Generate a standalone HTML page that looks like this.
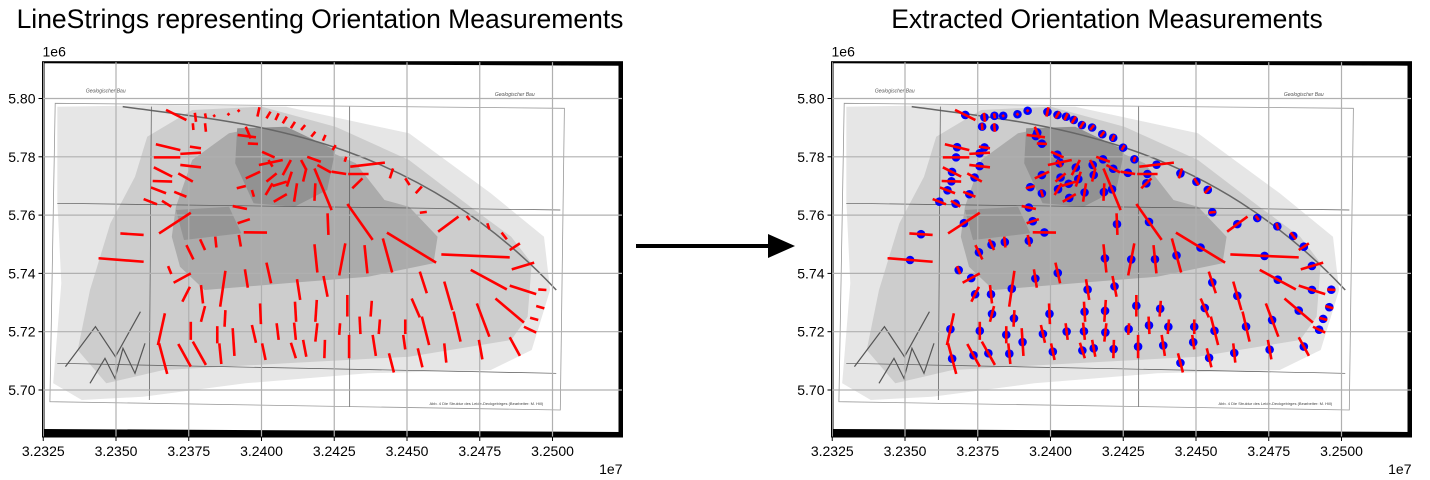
<!DOCTYPE html>
<html><head><meta charset="utf-8"><style>
body{margin:0;background:#fff;}
svg{display:block;font-family:"Liberation Sans",sans-serif;}
</style></head><body>
<svg id="fig" width="1430" height="480" viewBox="0 0 1430 480" xmlns="http://www.w3.org/2000/svg">
<text x="320" y="28" text-anchor="middle" font-size="26.5" fill="#000">LineStrings representing Orientation Measurements</text>
<text x="1107" y="28" text-anchor="middle" font-size="26.5" fill="#000">Extracted Orientation Measurements</text>
<g>
<line x1="636" y1="246" x2="772" y2="246" stroke="#000" stroke-width="4"/>
<polygon points="768,234 795,246 768,258" fill="#000"/>
</g>
<g id="left"></g>
<g id="right"></g>
</svg>
<script>
// tick values (km units: easting in 1e4 m -> label in 1e7; northing km -> label 1e6)
const xTicks = [32325, 32350, 32375, 32400, 32425, 32450, 32475, 32500];
const xTickLabels = ["3.2325","3.2350","3.2375","3.2400","3.2425","3.2450","3.2475","3.2500"];
const yTicks = [5700, 5720, 5740, 5760, 5780, 5800];
const yTickLabels = ["5.70","5.72","5.74","5.76","5.78","5.80"];
// segment endpoints (easting km, northing km)
const segX1 = [32367.2,32377.1,32380.6,32384.1,32388.3,32391.8,32399.3,32403.1,32405.9,32408.7,32411.5,32415.0,32418.5,32422.0,32425.5,32429.1,32376.4,32380.6,32394.6,32391.8,32395.3,32363.7,32363.0,32372.1,32375.4,32363.0,32372.1,32362.6,32371.4,32362.0,32370.0,32359.5,32365.8,32364.8,32351.5,32344.0,32367.9,32369.8,32374.2,32378.9,32384.1,32392.2,32393.9,32391.8,32390.1,32391.5,32396.7,32400.2,32399.1,32402.4,32394.6,32401.7,32401.4,32404.2,32403.8,32407.3,32411.2,32408.7,32414.3,32413.6,32415.7,32418.2,32419.2,32418.2,32424.1,32429.8,32430.5,32431.2,32429.5,32422.7,32445.2,32449.4,32453.0,32454.4,32460.7,32470.5,32477.6,32482.5,32485.3,32486.0,32461.8,32443.1,32441.7,32435.4,32428.8,32418.2,32471.9,32485.3,32495.1,32480.4,32494.4,32492.3,32490.2,32401.7,32394.3,32387.6,32379.2,32375.4,32412.2,32421.3,32454.4,32462.8,32474.0,32451.6,32437.9,32429.5,32419.0,32411.5,32399.5,32387.6,32380.6,32366.8,32375.7,32384.8,32390.1,32396.7,32405.2,32411.2,32419.2,32427.0,32433.7,32440.7,32449.4,32455.1,32466.0,32485.3,32474.7,32462.8,32453.7,32443.8,32438.2,32448.7,32430.1,32421.8,32414.3,32410.1,32400.2,32385.5,32376.4,32371.4,32364.8];
const segY1 = [5796.1,5795.1,5794.9,5794.3,5794.3,5795.5,5797.0,5795.5,5794.9,5793.8,5792.0,5790.9,5788.6,5787.5,5784.0,5780.0,5791.5,5791.5,5790.3,5787.5,5784.6,5784.3,5779.8,5781.0,5783.5,5776.4,5777.2,5771.7,5774.3,5769.5,5768.0,5765.5,5764.9,5753.7,5753.7,5745.2,5742.5,5736.8,5749.7,5751.7,5752.6,5753.2,5754.1,5757.2,5763.1,5769.2,5768.6,5781.7,5777.2,5778.9,5772.6,5771.5,5766.9,5764.6,5770.0,5773.7,5764.6,5769.8,5771.5,5778.9,5780.0,5764.9,5777.2,5776.0,5774.9,5774.1,5776.6,5769.2,5763.8,5760.6,5776.0,5772.6,5767.5,5760.8,5754.3,5759.7,5757.2,5754.0,5748.0,5741.4,5746.5,5754.0,5752.0,5749.7,5750.3,5750.0,5741.2,5735.8,5734.5,5731.4,5728.8,5724.8,5721.7,5743.7,5741.4,5740.9,5736.0,5735.4,5738.0,5739.1,5740.6,5737.2,5729.7,5731.4,5730.6,5732.6,5730.9,5730.3,5729.7,5727.4,5728.8,5726.3,5723.4,5721.9,5721.2,5722.3,5722.9,5723.1,5722.9,5722.9,5725.2,5724.2,5724.2,5725.2,5726.9,5718.1,5717.2,5716.0,5714.3,5712.6,5718.9,5718.9,5718.9,5717.2,5717.2,5716.2,5716.0,5716.0,5716.6,5715.8,5716.0];
const segX2 = [32374.2,32377.5,32380.9,32383.4,32389.0,32392.5,32398.6,32401.7,32404.8,32407.3,32410.1,32413.6,32417.1,32421.1,32424.4,32428.6,32376.6,32380.9,32396.3,32398.1,32398.8,32372.1,32372.1,32379.2,32379.2,32369.3,32379.2,32369.3,32376.4,32367.2,32374.2,32364.1,32369.0,32375.7,32359.5,32359.5,32369.0,32375.7,32376.6,32380.6,32384.5,32392.9,32401.9,32396.0,32395.0,32394.6,32397.4,32404.5,32407.3,32403.8,32399.5,32405.2,32403.8,32408.7,32408.7,32410.1,32412.2,32410.4,32415.4,32415.4,32420.4,32418.5,32423.9,32424.1,32429.1,32436.8,32442.4,32434.7,32438.2,32423.0,32444.1,32450.9,32455.1,32456.8,32467.7,32471.6,32478.3,32484.3,32488.8,32493.7,32485.3,32460.0,32444.9,32436.4,32426.7,32419.2,32484.3,32494.4,32497.9,32490.2,32497.2,32495.1,32494.4,32403.3,32395.3,32385.8,32379.9,32372.8,32413.3,32422.7,32456.8,32465.6,32478.3,32454.4,32437.5,32429.5,32418.5,32411.9,32399.8,32387.3,32379.2,32364.4,32375.7,32384.8,32390.7,32398.1,32405.9,32411.8,32418.5,32426.7,32434.0,32440.3,32449.4,32457.6,32468.4,32488.8,32475.9,32463.5,32455.3,32445.5,32439.3,32449.4,32430.1,32421.6,32415.4,32411.8,32401.4,32386.2,32380.9,32375.7,32367.6];
const segY2 = [5792.6,5792.0,5793.2,5793.8,5794.9,5796.1,5793.8,5793.2,5792.6,5791.5,5789.8,5789.2,5786.9,5785.5,5782.3,5778.3,5789.2,5788.6,5786.3,5786.7,5784.4,5782.3,5779.8,5781.4,5782.9,5773.2,5776.4,5771.5,5771.5,5767.5,5766.3,5763.7,5762.9,5760.8,5753.2,5744.0,5739.8,5740.0,5744.8,5748.0,5748.9,5749.2,5754.0,5758.6,5762.1,5770.0,5766.3,5779.8,5778.9,5776.6,5774.9,5774.3,5770.9,5767.2,5771.5,5778.9,5770.9,5774.9,5776.0,5775.5,5778.3,5770.9,5774.6,5761.7,5774.1,5774.1,5778.0,5772.6,5751.5,5753.2,5772.6,5770.3,5769.8,5761.1,5759.5,5758.3,5755.1,5751.7,5750.3,5743.7,5745.5,5743.7,5740.3,5740.0,5739.3,5740.3,5734.5,5732.9,5734.3,5723.1,5728.0,5724.0,5719.7,5736.6,5735.1,5728.6,5729.7,5730.3,5730.9,5732.0,5733.2,5727.4,5718.3,5724.9,5725.2,5725.2,5723.4,5723.4,5722.6,5721.7,5723.4,5715.4,5717.2,5716.0,5711.7,5716.2,5717.2,5717.2,5716.6,5718.9,5719.2,5719.2,5719.2,5715.4,5716.6,5711.7,5710.5,5709.4,5707.8,5706.0,5711.7,5713.9,5710.9,5710.9,5711.4,5710.9,5710.3,5708.9,5708.6,5708.0,5705.5];

const NS = "http://www.w3.org/2000/svg";
const AX = {w:580, top:61.7, bottom:437, xmin:32325, kx:2.91, y0:5800, y0px:98.5, ky:2.915};
function mk(tag, attrs, parent){const e=document.createElementNS(NS,tag);for(const k in attrs)e.setAttribute(k,attrs[k]);parent.appendChild(e);return e;}

function drawPanel(g, left, withDots){
  const xs = v => left + 0.75 + (v - AX.xmin) * AX.kx;
  const ys = v => AX.y0px - (v - AX.y0) * AX.ky;
  const zx = v => (left - 42.5) + v/2.445, zy = v => v/3 + 50;
  const poly = pts => pts.map(p => zx(p[0]).toFixed(1)+","+zy(p[1]).toFixed(1)).join(" ");
  const R = left + AX.w;
  // map image
  const img = mk("g",{},g);
  
  
  mk("rect",{x:left,y:AX.top,width:AX.w,height:AX.bottom-AX.top,fill:"#fff"},img);
  mk("polygon",{points:poly([[140,170],[400,165],[700,170],[1000,250],[1200,430],[1330,560],[1345,720],[1300,900],[1200,960],[900,970],[600,1000],[350,1040],[200,1050],[130,1000],[150,700],[140,450]]),fill:"#e6e6e6"},img);
  mk("polygon",{points:poly([[360,260],[470,180],[640,170],[820,230],[1000,330],[1150,470],[1250,560],[1300,640],[1290,800],[1250,870],[1000,920],[700,940],[400,960],[260,1000],[190,900],[220,720],[270,520],[330,380]]),fill:"#cdcdcd"},img);
  mk("polygon",{points:poly([[430,470],[470,330],[560,250],[640,230],[760,280],[870,340],[940,450],[1000,470],[1070,560],[1060,640],[900,680],[700,700],[500,720],[440,650],[420,560]]),fill:"#ababab"},img);
  mk("polygon",{points:poly([[580,235],[700,230],[820,300],[800,420],[720,470],[620,460],[575,340]]),fill:"#929292"},img);
  mk("polygon",{points:poly([[430,480],[560,470],[590,550],[450,570]]),fill:"#959595"},img);
  mk("polygon",{points:poly([[135,160],[1380,175],[1370,1080],[122,1055]]),fill:"none",stroke:"#999","stroke-width":0.8},img);
  mk("path",{d:"M"+zx(300)+","+zy(170)+" C"+zx(600)+","+zy(220)+" "+zx(1000)+","+zy(250)+" "+zx(1360)+","+zy(720),fill:"none",stroke:"#666","stroke-width":1.5},img);
  mk("path",{d:"M"+zx(140)+","+zy(460)+" L"+zx(1370)+","+zy(480)+" M"+zx(140)+","+zy(940)+" L"+zx(1360)+","+zy(970)+" M"+zx(370)+","+zy(170)+" L"+zx(365)+","+zy(1050)+" M"+zx(855)+","+zy(170)+" L"+zx(855)+","+zy(1070),fill:"none",stroke:"#555","stroke-width":0.7},img);
  mk("path",{d:"M"+zx(220)+","+zy(1000)+" l15,-25 l10,20 l8,-30 l12,25 l10,-30 M"+zx(160)+","+zy(950)+" l30,-40 l20,30 l25,-45",fill:"none",stroke:"#555","stroke-width":1.2},img);
  // black scan borders
  mk("polygon",{points:`${left},${AX.top} ${R},${AX.top} ${R},${AX.top+4} ${left},${AX.top+1.5}`,fill:"#000"},img);
  mk("polygon",{points:`${left},429 ${R},432 ${R},${AX.bottom} ${left},${AX.bottom}`,fill:"#000"},img);
  mk("rect",{x:R-4,y:AX.top,width:4,height:AX.bottom-AX.top,fill:"#000"},img);
  mk("rect",{x:left,y:AX.top,width:2,height:AX.bottom-AX.top,fill:"#000"},img);
  mk("text",{x:zx(210),y:zy(128),"font-size":5,fill:"#555","font-style":"italic"},img).textContent="Geologischer Bau";
  mk("text",{x:zx(1210),y:zy(138),"font-size":5,fill:"#555","font-style":"italic"},img).textContent="Geologischer Bau";
  mk("text",{x:zx(1050),y:zy(1065),"font-size":4,fill:"#444"},img).textContent="Abb. 4   Die Struktur des Leide-Deckgebirges (Bearbeiter: M. Hill)";
  // grid
  const grid = mk("g",{},g);
  
  
  xTicks.forEach(v=>mk("line",{x1:xs(v),x2:xs(v),y1:AX.top,y2:AX.bottom,stroke:"#b0b0b0","stroke-width":1.2},grid));
  yTicks.forEach(v=>mk("line",{x1:left,x2:R,y1:ys(v),y2:ys(v),stroke:"#b0b0b0","stroke-width":1.2},grid));
  // dots
  if(withDots){
    for(let i=0;i<segX1.length;i++){
      const c=mk("circle",{cx:xs((segX1[i]+segX2[i])/2),cy:ys((segY1[i]+segY2[i])/2),r:4.3,fill:"#0000ff"},g);
      
      
    }
  }
  // segments
  for(let i=0;i<segX1.length;i++){
    const l=mk("line",{x1:xs(segX1[i]),y1:ys(segY1[i]),x2:xs(segX2[i]),y2:ys(segY2[i]),stroke:"#ff0000","stroke-width":2.6},g);
    
    
  }
  // frame
  mk("rect",{x:left,y:AX.top,width:AX.w,height:AX.bottom-AX.top,fill:"none",stroke:"#000","stroke-width":1},g);
  // ticks
  xTicks.forEach((v,i)=>{
    mk("line",{x1:xs(v),x2:xs(v),y1:AX.bottom,y2:AX.bottom+4,stroke:"#000"},g);
    const t=mk("text",{x:xs(v),y:AX.bottom+19,"text-anchor":"middle","font-size":14,fill:"#000"},g);
    t.textContent=xTickLabels[i];
    
    
  });
  yTicks.forEach((v,i)=>{
    mk("line",{x1:left-4,x2:left,y1:ys(v),y2:ys(v),stroke:"#000"},g);
    const t=mk("text",{x:left-7,y:ys(v)+5,"text-anchor":"end","font-size":14,fill:"#000"},g);
    t.textContent=yTickLabels[i];
    
    
  });
  const oy=mk("text",{x:left,y:AX.top-5,"font-size":14,fill:"#000"},g);
  oy.textContent="1e6";
  
  
  const ox=mk("text",{x:R,y:AX.bottom+37,"text-anchor":"end","font-size":14,fill:"#000"},g);
  ox.textContent="1e7";
  
  
}
drawPanel(document.getElementById("left"), 42.5, false);
drawPanel(document.getElementById("right"), 831.5, true);
</script>
</body></html>
